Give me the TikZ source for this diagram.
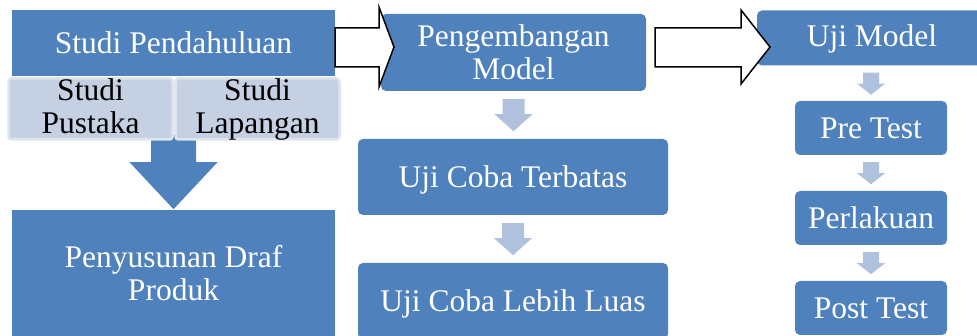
\documentclass[tikz,border=0pt]{standalone}
\usepackage{fontspec}
\setmainfont{Liberation Serif}
\usetikzlibrary{calc}
\definecolor{mainblue}{HTML}{4F81BD}
\definecolor{paleblue}{HTML}{B0C1DD}
\definecolor{bandfill}{HTML}{C6D0E3}
\definecolor{bandedge}{HTML}{DEE4EE}
\begin{document}
\begin{tikzpicture}[x=1pt,y=-1pt,
  every node/.style={font=\fontsize{31.5}{33}\selectfont, inner sep=0pt, align=center},
  flatbox/.style={fill=mainblue, text=white},
  roundbox/.style={fill=mainblue, text=white, rounded corners=5pt},
  bandcell/.style={fill=bandfill, draw=bandedge, line width=2.5pt, rounded corners=3pt, text=black},
  hollow/.style={draw=black, fill=white, line width=1.5pt, line join=miter},
  pics/downarr/.style args={#1/#2/#3/#4/#5}{code={
    \fill[#5] (-#1,0) -- (#1,0) -- (#1,#3) -- (#2,#3) -- (0,#4) -- (-#2,#3) -- (-#1,#3) -- cycle;}}
]
\useasboundingbox (0,0) rectangle (977,336);
\clip (0,0) rectangle (977,336);

% first column
\node[flatbox, minimum width=323pt, minimum height=66pt] (pend) at (173.5,43) {Studi Pendahuluan};
\pic at ($(pend.south)+(0,59)$) {downarr=22.5/44/27/74/mainblue};
\node[bandcell, minimum width=164pt, minimum height=61pt, text depth=6pt] (pust) at (90.5,109) {Studi\\Pustaka};
\node[bandcell, minimum width=164pt, minimum height=61pt, text depth=6pt] (lapa) at (257.5,109) {Studi\\Lapangan};
\node[flatbox, minimum width=323pt, minimum height=126pt] (draf) at (173.5,273) {Penyusunan Draf\\Produk};

% second column
\node[roundbox, minimum width=265pt, minimum height=77pt] (peng) at (513.5,52.5) {Pengembangan\\Model};
\node[roundbox, minimum width=310pt, minimum height=76pt, text height=27pt] (terb) at (513,177) {Uji Coba Terbatas};
\node[roundbox, minimum width=310pt, minimum height=76pt, text height=28pt] (luas) at (513,301) {Uji Coba Lebih Luas};
\pic at ($(peng.south)+(0,8)$) {downarr=11/19/15/32/paleblue};
\pic at ($(terb.south)+(0,8)$) {downarr=11/19/15/32/paleblue};

% third column
\node[roundbox, minimum width=230pt, minimum height=55pt, text height=24pt] (ujim) at (872,38) {Uji Model};
\node[roundbox, minimum width=152pt, minimum height=54pt] (pre) at (871,128) {Pre Test};
\node[roundbox, minimum width=152pt, minimum height=54pt] (perl) at (871,218) {Perlakuan};
\node[roundbox, minimum width=152pt, minimum height=54pt] (post) at (871,308) {Post Test};
\pic at ($(ujim.south)+(-1,7)$) {downarr=8/14/11/22/paleblue};
\pic at ($(pre.south)+(0,7)$) {downarr=8/14/11/22/paleblue};
\pic at ($(perl.south)+(0,7)$) {downarr=8/14/11/22/paleblue};

% hollow block arrows between the columns
\draw[hollow] (pend.east |- 0,28) -- (379,28) -- (379,7) -- (394,47) -- (379,87) -- (379,67) -- (pend.east |- 0,67) -- cycle;
\draw[hollow] (655,28) -- (741,28) -- (741,10) -- (770,47) -- (741,84) -- (741,67) -- (655,67) -- cycle;
\end{tikzpicture}
\end{document}
